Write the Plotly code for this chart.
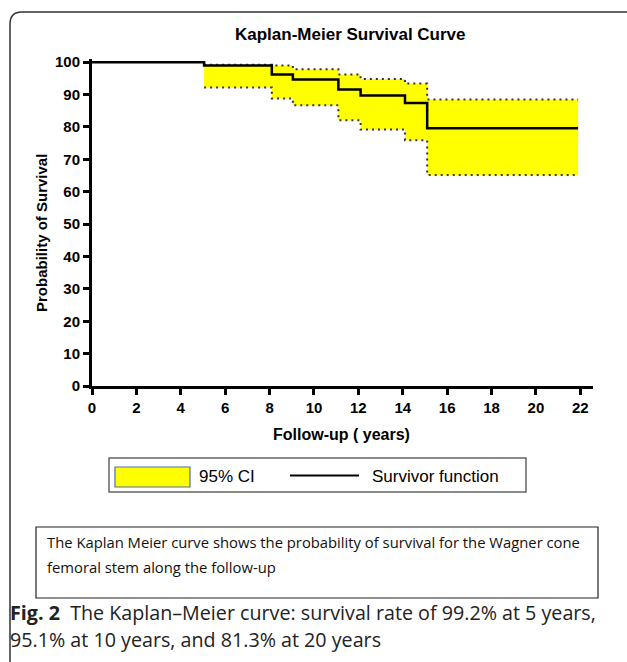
import plotly.graph_objects as go

# ---- data ----
step_times = [0, 5.05, 8.1, 9.05, 11.1, 12.1, 14.1, 15.1, 21.9]
survival = [100, 99.0, 96.2, 94.7, 91.6, 89.7, 87.4, 79.6, 79.6]

ci_times = [5.05, 8.1, 9.05, 11.1, 12.1, 14.1, 15.1, 21.9]
ci_upper = [99.2, 99.0, 97.8, 96.2, 94.8, 93.4, 88.5, 88.5]
ci_lower = [92.2, 88.8, 86.7, 82.1, 79.2, 75.9, 65.2, 65.2]

x_ticks = [0, 2, 4, 6, 8, 10, 12, 14, 16, 18, 20, 22]
y_ticks = [0, 10, 20, 30, 40, 50, 60, 70, 80, 90, 100]

title = "Kaplan-Meier Survival Curve"
x_title = "Follow-up ( years)"
y_title = "Probability of Survival"
legend_ci = "95% CI"
legend_sf = "Survivor function"
note1 = "The Kaplan Meier curve shows the probability of survival for the Wagner cone"
note2 = "femoral stem along the follow-up"
caption1 = "<b>Fig. 2</b>  The Kaplan–Meier curve: survival rate of 99.2% at 5 years,"
caption2 = "95.1% at 10 years, and 81.3% at 20 years"

# ---- layout geometry (pixels) ----
W, H = 627, 662
L, R, T, B = 92, 593, 59, 386
PW, PH = R - L, B - T


def px(x):
    return (x - L) / PW


def py(y):
    return (B - y) / PH


ARIAL = "Liberation Sans, Arial, sans-serif"
CAPF = "Open Sans, sans-serif"
DOT = "2px,4px"

fig = go.Figure()

fig.add_trace(go.Scatter(
    x=ci_times, y=ci_upper, mode="lines", line_shape="hv",
    line=dict(color="#333333", width=2, dash=DOT),
    showlegend=False, hoverinfo="skip"))
fig.add_trace(go.Scatter(
    x=ci_times, y=ci_lower, mode="lines", line_shape="hv",
    line=dict(color="#333333", width=2, dash=DOT),
    fill="tonexty", fillcolor="#ffff00",
    showlegend=False, hoverinfo="skip"))
fig.add_trace(go.Scatter(
    x=step_times, y=survival, mode="lines", line_shape="hv",
    line=dict(color="#000000", width=2.5),
    showlegend=False))

shapes = []
# outer rounded frame
shapes.append(dict(
    type="path", xref="paper", yref="paper",
    path=(f"M {px(10)} {py(670)} L {px(10)} {py(24)} "
          f"Q {px(10)} {py(12)} {px(22)} {py(12)} L {px(640)} {py(12)}"),
    line=dict(color="#333333", width=1.5)))
# legend box
shapes.append(dict(type="rect", xref="paper", yref="paper",
                   x0=px(109), x1=px(526), y0=py(458), y1=py(492),
                   line=dict(color="#666666", width=1.5)))
shapes.append(dict(type="rect", xref="paper", yref="paper",
                   x0=px(115), x1=px(190), y0=py(467), y1=py(487),
                   fillcolor="#ffff00", line=dict(color="#4f6fa8", width=1.2)))
shapes.append(dict(type="line", xref="paper", yref="paper",
                   x0=px(290), x1=px(359), y0=py(475.5), y1=py(475.5),
                   line=dict(color="#000000", width=1.8)))
# note box
shapes.append(dict(type="rect", xref="paper", yref="paper",
                   x0=px(36), x1=px(598), y0=py(527), y1=py(598),
                   line=dict(color="#222222", width=1.2)))

ann = []
ann.append(dict(text=f"<b>{title}</b>", x=px(350), y=py(34), xref="paper", yref="paper",
                showarrow=False, xanchor="center", yanchor="middle",
                font=dict(family=ARIAL, size=17, color="#000")))
ann.append(dict(text=f"<b>{y_title}</b>", x=px(42), y=py(233), xref="paper", yref="paper",
                showarrow=False, xanchor="center", yanchor="middle", textangle=-90,
                font=dict(family=ARIAL, size=15, color="#000")))
ann.append(dict(text=f"<b>{x_title}</b>", x=px(341), y=py(434), xref="paper", yref="paper",
                showarrow=False, xanchor="center", yanchor="middle",
                font=dict(family=ARIAL, size=16, color="#000")))
ann.append(dict(text=legend_ci, x=px(197), y=py(476), xref="paper", yref="paper",
                showarrow=False, xanchor="left", yanchor="middle",
                font=dict(family=ARIAL, size=17, color="#000")))
ann.append(dict(text=legend_sf, x=px(370), y=py(476), xref="paper", yref="paper",
                showarrow=False, xanchor="left", yanchor="middle",
                font=dict(family=ARIAL, size=17, color="#000")))
ann.append(dict(text=note1, x=px(45), y=py(542), xref="paper", yref="paper",
                showarrow=False, xanchor="left", yanchor="middle", align="left",
                font=dict(family=CAPF, size=14.8, color="#111")))
ann.append(dict(text=note2, x=px(45), y=py(567), xref="paper", yref="paper",
                showarrow=False, xanchor="left", yanchor="middle", align="left",
                font=dict(family=CAPF, size=14.8, color="#111")))
ann.append(dict(text=caption1, x=px(8), y=py(612), xref="paper", yref="paper",
                showarrow=False, xanchor="left", yanchor="middle", align="left",
                font=dict(family=CAPF, size=19.7, color="#222")))
ann.append(dict(text=caption2, x=px(8), y=py(639), xref="paper", yref="paper",
                showarrow=False, xanchor="left", yanchor="middle", align="left",
                font=dict(family=CAPF, size=19.7, color="#222")))

fig.update_layout(
    width=W, height=H,
    margin=dict(l=L, r=W - R, t=T, b=H - B, pad=0),
    paper_bgcolor="white", plot_bgcolor="white",
    showlegend=False,
    shapes=shapes, annotations=ann,
    xaxis=dict(range=[0, 22.57], tickvals=x_ticks, ticktext=[f"<b>{v}</b>" for v in x_ticks],
               showgrid=False, zeroline=False, showline=True, linecolor="#000", linewidth=3,
               ticks="outside", ticklen=6, tickwidth=3, tickcolor="#000",
               tickfont=dict(family=ARIAL, size=15, color="#000")),
    yaxis=dict(range=[0, 101], tickvals=y_ticks, ticktext=[f"<b>{v}</b>" for v in y_ticks],
               showgrid=False, zeroline=False, showline=True, linecolor="#000", linewidth=3,
               ticks="outside", ticklen=6, tickwidth=3, tickcolor="#000",
               tickfont=dict(family=ARIAL, size=15, color="#000")),
)

fig.write_html("out.html", config={"displayModeBar": False},
               post_script="document.body.style.margin='0px';document.body.style.overflow='hidden';")
